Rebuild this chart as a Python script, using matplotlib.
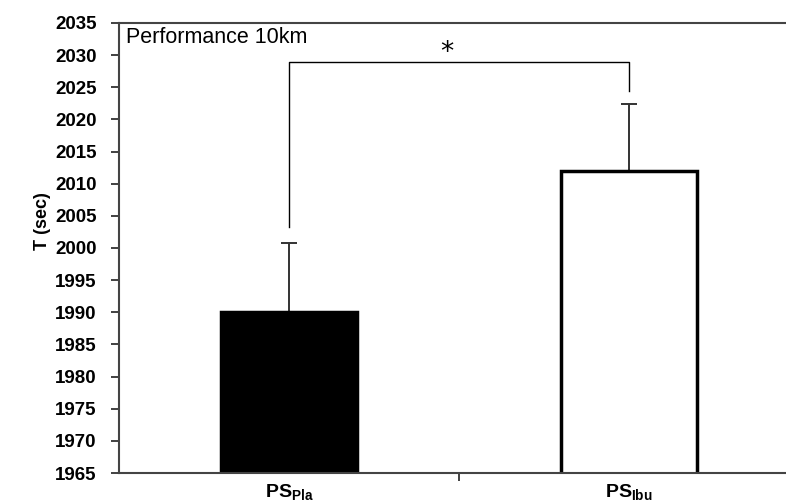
import numpy as np
import matplotlib.pyplot as plt
from matplotlib.transforms import blended_transform_factory

plt.rcParams['font.family'] = ['Liberation Sans', 'DejaVu Sans']
plt.rcParams['mathtext.fontset'] = 'custom'
plt.rcParams['mathtext.bf'] = 'Liberation Sans:bold'
plt.rcParams['mathtext.rm'] = 'Liberation Sans'

# mean 10km time and SD per condition
groups = ['Pla', 'Ibu']
means = [1990.0, 2012.0]
sds = [10.8, 10.4]
colors = ['black', 'white']
yticks = list(range(1965, 2040, 5))

fig = plt.figure(figsize=(7.86, 5.04), dpi=100)
ax = fig.add_axes([0.1514, 0.0615, 0.865, 0.893])

x = np.arange(len(groups))
ax.bar(x, means, width=0.4, color=colors, edgecolor='black', linewidth=2.5, zorder=2)
ax.errorbar(x, means, yerr=[np.zeros(len(sds)), sds], fmt='none', ecolor='#333333',
            elinewidth=1.4, capsize=6, capthick=1.4, zorder=1)

# significance bracket
tops = [m + s for m, s in zip(means, sds)]
yb = 2029
ax.plot([x[0], x[0], x[1], x[1]], [tops[0] + 2.5, yb, yb, tops[1] + 2.0],
        color='black', linewidth=1.0, zorder=3)
ax.text(0.465, yb - 0.7, '*', fontsize=19, family='DejaVu Sans', ha='center', va='bottom')

ax.set_xlim(-0.5, 1.5)
ax.set_ylim(1965, 2035)
ax.set_yticks(yticks)
ax.set_yticklabels([str(t) for t in yticks], fontsize=13.5, fontweight='bold')
ax.set_xticks([0.5])
ax.set_xticklabels([])
ax.tick_params(axis='both', direction='out', length=6, width=1.3, color='#333333')
ax.tick_params(axis='y', pad=10)

# group labels sit at the very bottom of the figure
trans = blended_transform_factory(ax.transData, fig.transFigure)
for i, g in enumerate(groups):
    ax.text(x[i], 0.004, r'$\mathbf{PS_{%s}}$' % g, transform=trans,
            ha='center', va='bottom', fontsize=14)

ax.text(0.011, 0.99, 'Performance 10km', transform=ax.transAxes, fontsize=15.5,
        ha='left', va='top')

ax.set_ylabel('T (sec)', fontsize=13, fontweight='bold')
ax.yaxis.set_label_coords(-0.1, 0.56)

for side in ['left', 'bottom', 'top']:
    ax.spines[side].set_color('#444444')
    ax.spines[side].set_linewidth(1.5)
ax.spines['right'].set_visible(False)

fig.savefig('out.png', dpi=100)
